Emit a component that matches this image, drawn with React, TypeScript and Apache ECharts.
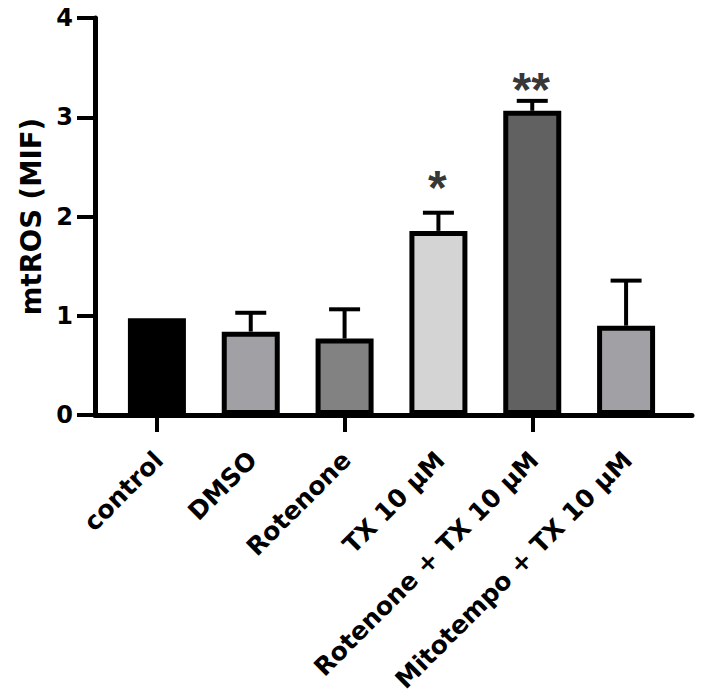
import React, { useEffect, useRef } from 'react';
import * as echarts from 'echarts';

const categories = ['control', 'DMSO', 'Rotenone', 'TX 10 µM', 'Rotenone + TX 10 µM', 'Mitotempo + TX 10 µM'];
const means = [0.975, 0.84, 0.77, 1.855, 3.065, 0.9];
const errors = [0, 0.19, 0.295, 0.183, 0.1, 0.454];
const barColors = ['#000000', '#a1a1a5', '#828282', '#d4d4d4', '#616161', '#a1a1a5'];
const significance = ['', '', '', '*', '**', ''];
const significanceLevels = [null, null, null, 2.4, 3.39, null];
const yTicks = [0, 1, 2, 3, 4];

const FONT = 'DejaVu Sans';

export default function App() {
  const ref = useRef<HTMLDivElement>(null);
  useEffect(() => {
    const chart = echarts.init(ref.current as HTMLDivElement, null, { renderer: 'svg' });
    const gridTop = 18;
    const gridBottom = 696 - 415;
    chart.setOption({
      animation: false,
      backgroundColor: '#ffffff',
      grid: [
        { left: 95, right: 17, top: gridTop, bottom: gridBottom },
        { left: 110, right: 36, top: gridTop, bottom: gridBottom },
        { left: 103, right: 43, top: gridTop, bottom: gridBottom },
      ],
      xAxis: [
        {
          type: 'value', gridIndex: 0, min: 0, max: 1,
          axisLine: { show: true, onZero: false, lineStyle: { color: '#000', width: 5 } },
          axisTick: { show: false }, axisLabel: { show: false }, splitLine: { show: false },
        },
        {
          type: 'category', gridIndex: 1, data: categories,
          axisLine: { show: false },
          axisTick: { show: true, alignWithLabel: true, length: 17, lineStyle: { color: '#000', width: 4 } },
          axisLabel: { show: false },
        },
        {
          type: 'category', gridIndex: 2, data: categories,
          axisLine: { show: false }, axisTick: { show: false },
          axisLabel: {
            interval: 0, rotate: 45, margin: 32, align: 'right', verticalAlign: 'top',
            color: '#000', fontFamily: FONT, fontWeight: 'bold', fontSize: 25,
          },
        },
      ],
      yAxis: [
        {
          type: 'value', gridIndex: 0, min: yTicks[0], max: yTicks[yTicks.length - 1], interval: 1,
          axisLine: { show: true, lineStyle: { color: '#000', width: 5 } },
          axisTick: { show: true, length: 18, lineStyle: { color: '#000', width: 4 } },
          axisLabel: { margin: 22, color: '#000', fontFamily: FONT, fontWeight: 'bold', fontSize: 24 },
          splitLine: { show: false },
          name: 'mtROS (MIF)', nameLocation: 'middle', nameGap: 48,
          nameTextStyle: { color: '#000', fontFamily: FONT, fontWeight: 'bold', fontSize: 27.5 },
        },
        { type: 'value', gridIndex: 1, min: 0, max: 4, show: false },
        { type: 'value', gridIndex: 2, min: 0, max: 4, show: false },
      ],
      series: [
        {
          type: 'bar', xAxisIndex: 1, yAxisIndex: 1, barWidth: 58,
          data: means.map((v, i) => ({
            value: v,
            itemStyle: { color: barColors[i], borderColor: '#000', borderWidth: 5 },
          })),
          z: 3,
        },
        {
          type: 'custom', xAxisIndex: 1, yAxisIndex: 1, z: 2,
          data: means.map((v, i) => [i, v, v + errors[i]]),
          renderItem: (params: any, api: any) => {
            const i = api.value(0);
            const lo = api.coord([i, api.value(1)]);
            const hi = api.coord([i, api.value(2)]);
            if (Math.abs(hi[1] - lo[1]) < 0.5) return { type: 'group', children: [] };
            const half = 15.5;
            const style = { stroke: '#000', lineWidth: 4 };
            return {
              type: 'group',
              children: [
                { type: 'line', shape: { x1: lo[0], y1: lo[1], x2: hi[0], y2: hi[1] }, style },
                { type: 'line', shape: { x1: hi[0] - half, y1: hi[1], x2: hi[0] + half, y2: hi[1] }, style },
              ],
            };
          },
        },
        {
          type: 'scatter', xAxisIndex: 1, yAxisIndex: 1, symbolSize: 0, silent: true,
          data: significanceLevels
            .map((lvl, i) => (lvl == null ? null : { value: [i, lvl], name: significance[i] }))
            .filter((d) => d != null),
          label: {
            show: true, position: 'inside', formatter: (p: any) => p.name,
            color: '#000', fontFamily: 'Liberation Sans', fontWeight: 'bold', fontSize: 48, offset: [-1, 11],
          },
          z: 5,
        },
      ],
    });
    return () => chart.dispose();
  }, []);
  return (
    <div
      ref={ref}
      style={{ position: 'fixed', left: 0, top: 0, width: 709, height: 696, background: '#fff' }}
    />
  );
}
